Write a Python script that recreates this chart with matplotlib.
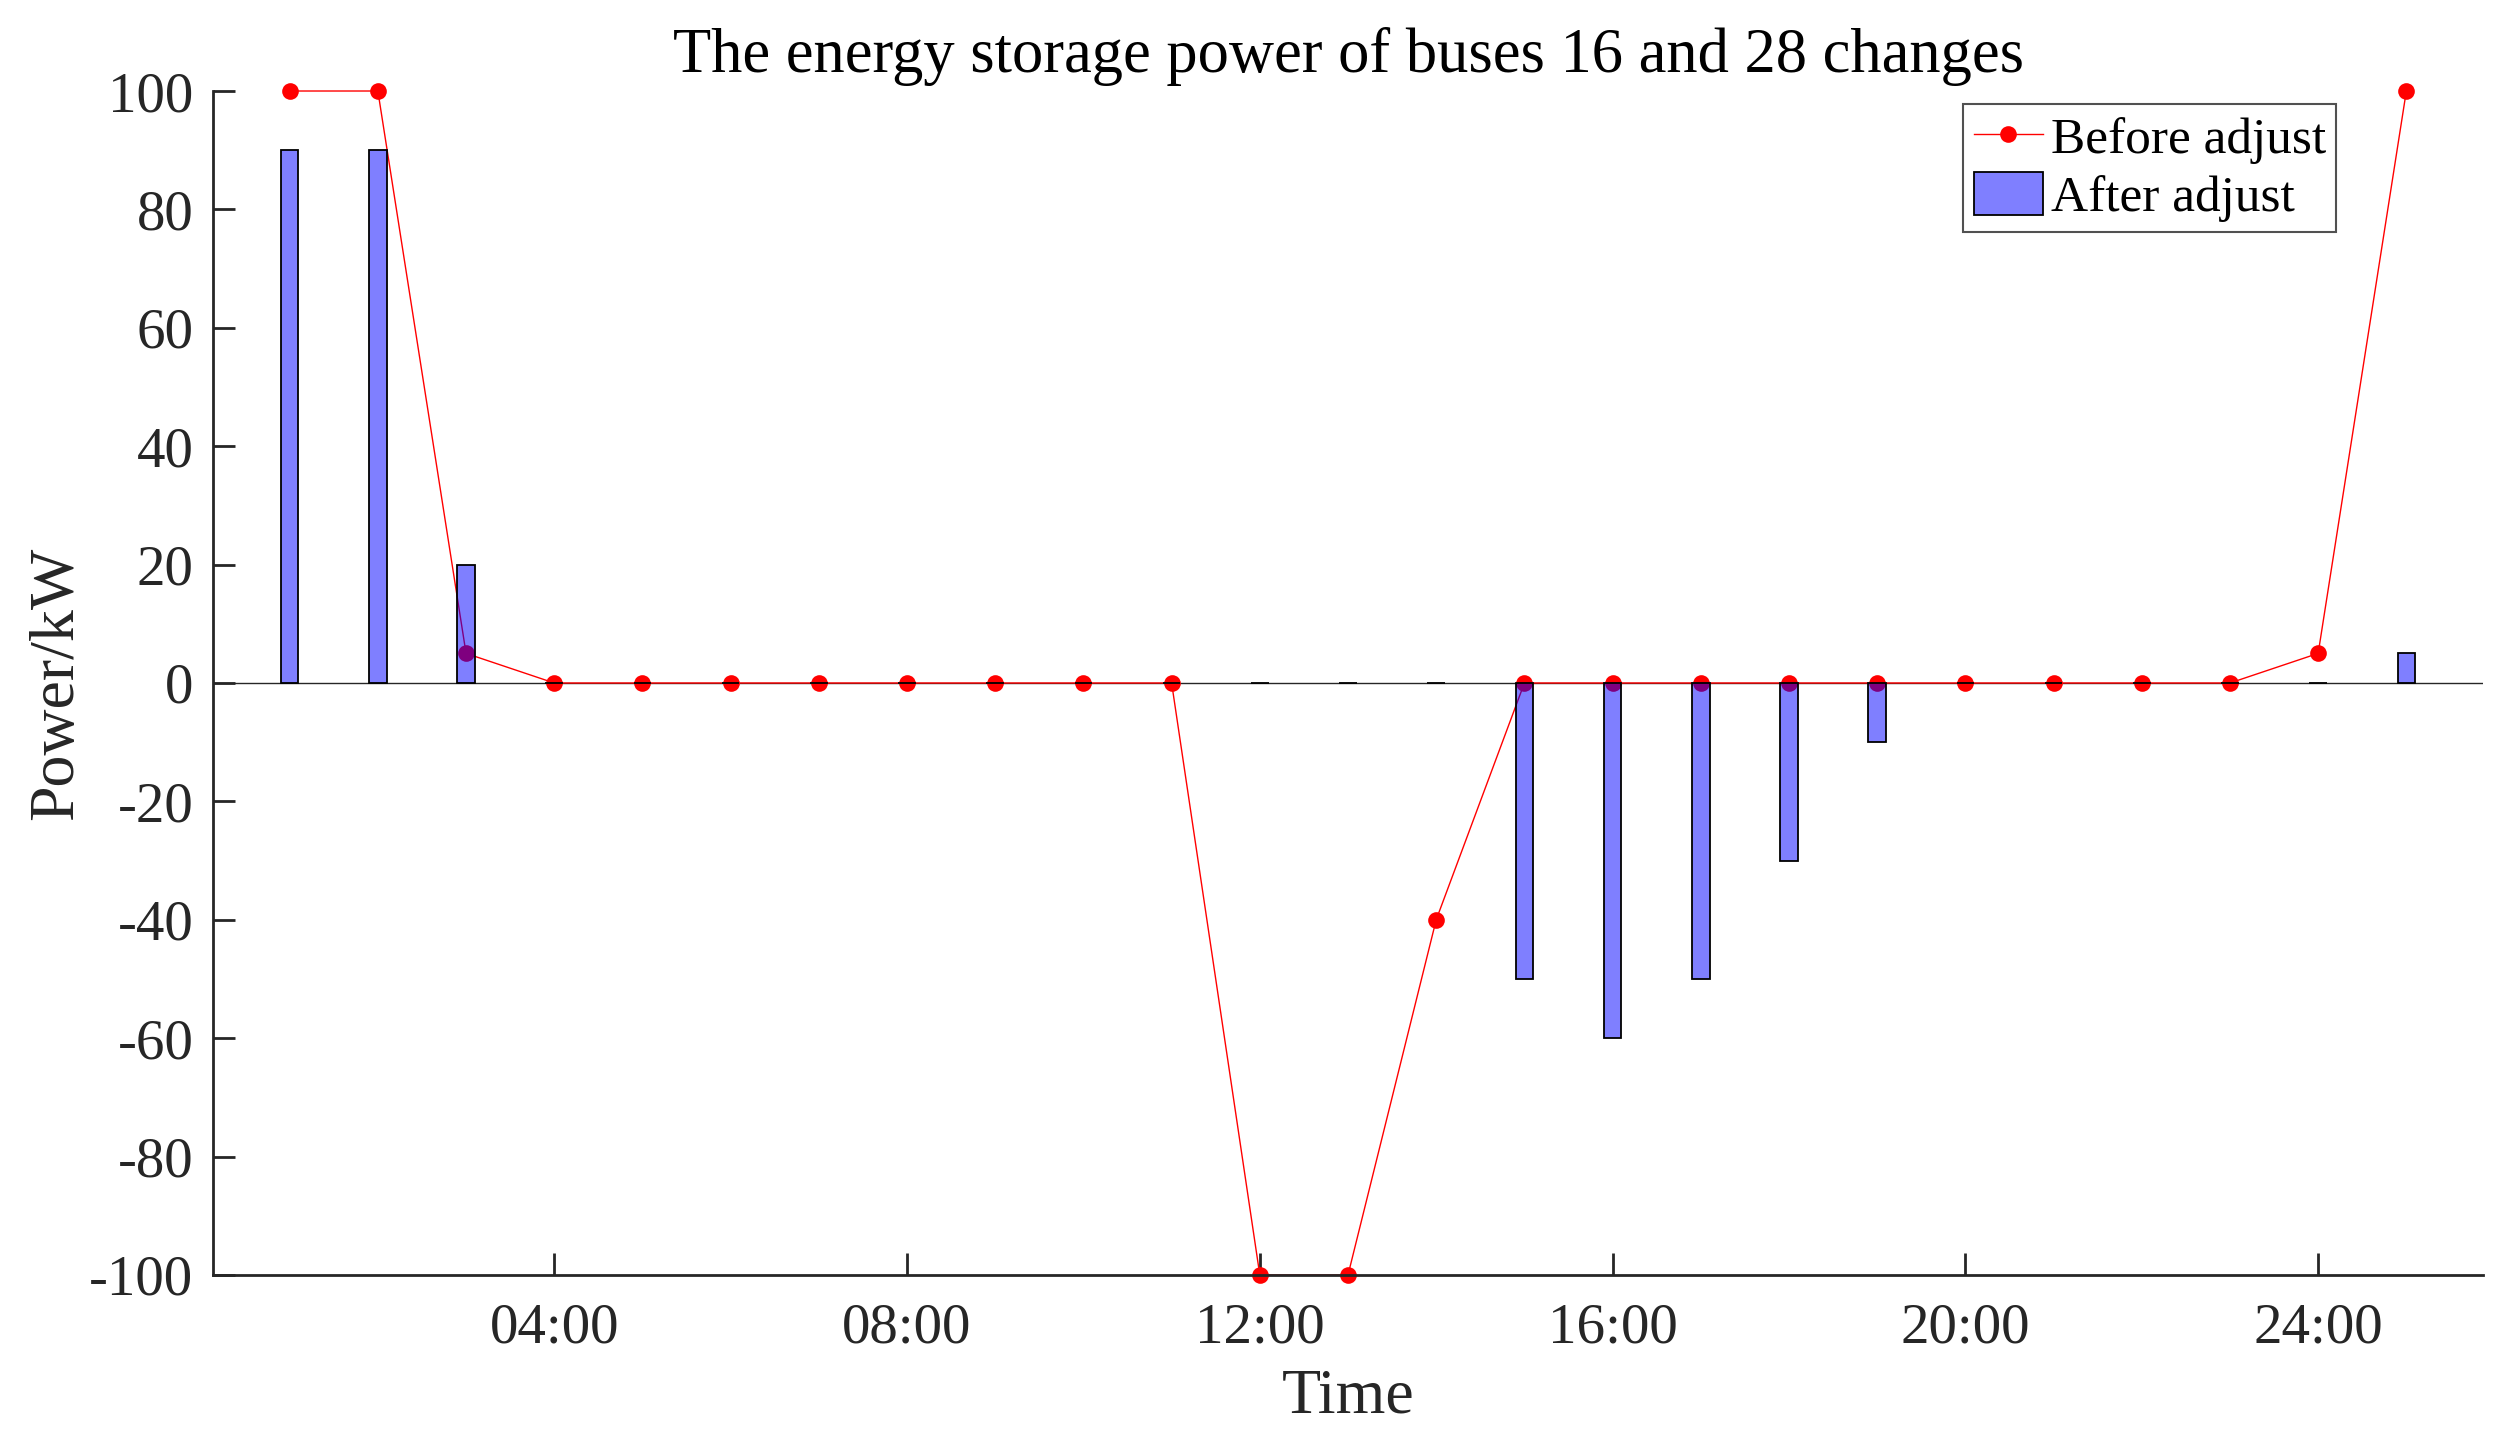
import matplotlib
matplotlib.use("Agg")
import matplotlib.pyplot as plt
from matplotlib.lines import Line2D
from matplotlib.patches import Patch

hours = list(range(1, 26))
before_adjust = [100, 100, 5, 0, 0, 0, 0, 0, 0, 0, 0, -100, -100, -40,
                 0, 0, 0, 0, 0, 0, 0, 0, 0, 5, 100]
after_adjust = [90, 90, 20, 0, 0, 0, 0, 0, 0, 0, 0, 0, 0, 0,
                -50, -60, -50, -30, -10, 0, 0, 0, 0, 0, 5]
xtick_pos = [4, 8, 12, 16, 20, 24]
xtick_labels = ["04:00", "08:00", "12:00", "16:00", "20:00", "24:00"]
ytick_pos = list(range(-100, 101, 20))

plt.rcParams['font.family'] = ['Liberation Serif', 'DejaVu Serif']
plt.rcParams['axes.unicode_minus'] = False
axc = (0.15, 0.15, 0.15)

fig = plt.figure(figsize=(25.14, 14.40), dpi=100)
ax = fig.add_axes([0.0847, 0.1146, 0.9030, 0.8222])

ax.axhline(0, color=axc, lw=1.0, zorder=1)
ax.plot(hours, before_adjust, color='red', lw=1.0, marker='o', ms=12,
        markeredgewidth=0, zorder=2, clip_on=False)
ax.bar(hours, after_adjust, width=0.2, facecolor=(0, 0, 1, 0.5),
       edgecolor='black', linewidth=1.3, zorder=3)

ax.set_xlim(0.13, 25.87)
ax.set_ylim(-100, 100)
ax.set_xticks(xtick_pos)
ax.set_xticklabels(xtick_labels)
ax.set_yticks(ytick_pos)
ax.tick_params(direction='in', length=16, width=2, colors=axc, labelsize=41)
ax.tick_params(axis='x', pad=20)
ax.tick_params(axis='y', pad=14)
for s in ['top', 'right']:
    ax.spines[s].set_visible(False)
for s in ['left', 'bottom']:
    ax.spines[s].set_color(axc)
    ax.spines[s].set_linewidth(2)

ax.set_title("The energy storage power of buses 16 and 28 changes",
             fontsize=45, color='black', pad=14)
ax.set_xlabel("Time", fontsize=46, color=axc, labelpad=10)
ax.set_ylabel("Power/kW", fontsize=46, color=axc, labelpad=2)

handles = [Line2D([0], [0], color='red', lw=1.0, marker='o', ms=12,
                  markeredgewidth=0),
           Patch(facecolor=(0, 0, 1, 0.5), edgecolor='black', linewidth=1.3)]
leg = fig.legend(handles, ["Before adjust", "After adjust"],
                 loc='upper right', bbox_to_anchor=(2336 / 2514, 1 - 104 / 1440),
                 fontsize=37, frameon=True, fancybox=False, borderpad=0.2,
                 handlelength=1.35, handleheight=0.9, handletextpad=0.15,
                 labelspacing=0.15, borderaxespad=0)
leg.get_frame().set_edgecolor(axc)
leg.get_frame().set_linewidth(1.5)

fig.savefig("out.png", dpi=100)
